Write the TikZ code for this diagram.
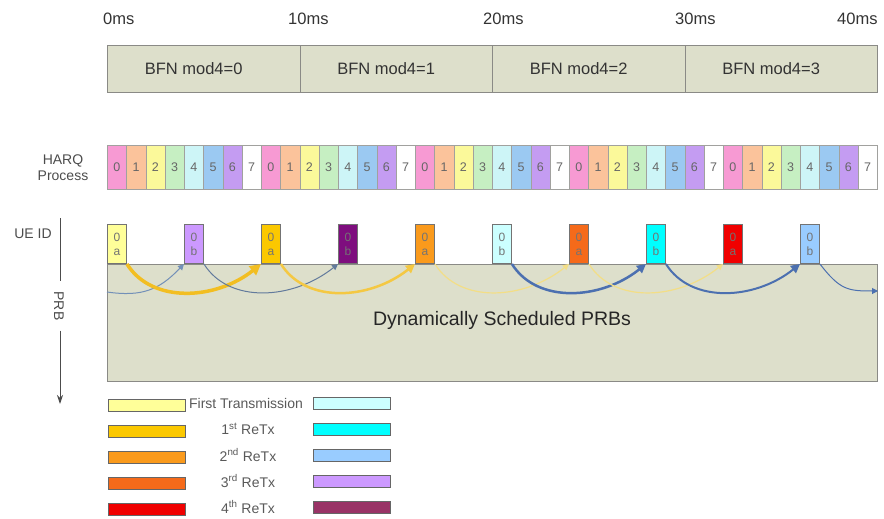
\documentclass[tikz,border=0pt]{standalone}
\usepackage{fontspec}
\setmainfont{Liberation Sans}
\usetikzlibrary{arrows.meta, positioning}

% colours
\definecolor{bfnfill}{HTML}{DDDFCB}
\definecolor{frameline}{HTML}{8A8A86}
\definecolor{harq0}{HTML}{F79AD3}
\definecolor{harq1}{HTML}{FBC39B}
\definecolor{harq2}{HTML}{FBF99A}
\definecolor{harq3}{HTML}{C6EFC2}
\definecolor{harq4}{HTML}{CDF5F7}
\definecolor{harq5}{HTML}{9BC9F2}
\definecolor{harq6}{HTML}{C49CF2}
\definecolor{harq7}{HTML}{FFFFFF}
\definecolor{firsta}{HTML}{FFFF99}
\definecolor{retxaone}{HTML}{FBC800}
\definecolor{retxatwo}{HTML}{FA9A1C}
\definecolor{retxathree}{HTML}{F56A1A}
\definecolor{retxafour}{HTML}{F00000}
\definecolor{firstb}{HTML}{CCFFFF}
\definecolor{retxbone}{HTML}{00FFFF}
\definecolor{retxbtwo}{HTML}{99CCFF}
\definecolor{retxbthree}{HTML}{CC99FF}
\definecolor{retxbfour}{HTML}{993366}
\definecolor{uepurple}{HTML}{7E0E7E}
\definecolor{goldline}{HTML}{F2BE22}
\definecolor{paleline}{HTML}{F3DE86}
\definecolor{blueline}{HTML}{4C70B0}
\definecolor{greyblue}{HTML}{7390B8}

\tikzset{
  timelabel/.style={anchor=west, inner sep=0pt, text=black!80, font=\fontsize{16.5}{18}\selectfont},
  panel/.style={draw=frameline, fill=bfnfill, line width=0.8pt, anchor=north west, inner sep=0pt},
  bfntext/.style={inner sep=0pt, text=black!80, font=\fontsize{16.5}{18}\selectfont},
  harqcell/.style={draw=frameline!80, line width=0.6pt, anchor=north west, inner sep=0pt,
    minimum width=19.25pt, minimum height=44pt, text=black!60, font=\fontsize{12.5}{14}\selectfont},
  uebox/.style={draw=black!55, line width=0.7pt, anchor=south west, inner sep=0pt, align=center,
    minimum width=19.25pt, minimum height=39pt, text=black!55, font=\fontsize{12}{14}\selectfont},
  sidelabel/.style={align=center, text=black!70, font=\fontsize{14}{16}\selectfont},
  legbox/.style={draw=black!60, line width=0.7pt, anchor=west, minimum width=77pt, minimum height=12pt, inner sep=0pt},
  legtext/.style={text=black!65, inner sep=0pt, font=\fontsize{14}{16}\selectfont},
  retxgold/.style={draw=goldline, line width=3.5pt, -{Triangle[length=11pt, width=11pt]}},
  retxgoldmid/.style={draw=goldline!85, line width=2.5pt, -{Triangle[length=9pt, width=9pt]}},
  retxpale/.style={draw=paleline, line width=1.2pt, -{Triangle[length=6pt, width=6pt]}},
  retxblue/.style={draw=blueline, line width=2.5pt, -{Triangle[length=9pt, width=9pt]}},
  retxthin/.style={draw=greyblue, line width=1pt, -{Triangle[length=6pt, width=6pt]}},
}

\begin{document}
\begin{tikzpicture}[x=1pt, y=-1pt]
    \useasboundingbox (0,0) rectangle (884,519);

    % time axis
    \foreach \ms/\x in {0/103, 10/288, 20/483, 30/675, 40/837}
        \node[timelabel] (t\ms) at (\x,19) {\ms ms};

    % BFN frames
    \foreach \k in {0,...,3} {
        \node[panel, minimum width=192.5pt, minimum height=47pt] (bfn\k) at ({107+192.5*\k},45) {};
        \node[bfntext] (bfntext\k) at ([xshift=-10pt]bfn\k.center) {BFN mod4=\k};
    }

    % HARQ processes
    \node[sidelabel] (harqlabel) at (63,168) {HARQ\\Process};
    \foreach \i in {0,...,39} {
        \pgfmathtruncatemacro\h{mod(\i,8)}
        \node[harqcell, fill=harq\h] (h\i) at ({107+19.25*\i},145) {\h};
    }

    % PRB area
    \node[panel, minimum width=770pt, minimum height=117pt] (prb) at (107,264) {};
    \node[inner sep=0pt, text=black!85, font=\fontsize{19.5}{22}\selectfont] (prbtext) at (502,320) {Dynamically Scheduled PRBs};

    % UE transmissions
    \foreach \n/\c/\l in {1/firsta/a, 2/retxbthree/b, 3/retxaone/a, 4/uepurple/b, 5/retxatwo/a,
                          6/firstb/b, 7/retxathree/a, 8/retxbone/b, 9/retxafour/a, 10/retxbtwo/b}
        \node[uebox, fill=\c] (ue\n) at ({107+77*(\n-1)},264) {0\\\l};

    % axis on the left
    \node[sidelabel] (uelabel) at (33,234) {UE ID};
    \node[sidelabel, rotate=-90, inner sep=10pt] (prbaxis) at (59,306) {PRB};
    \coordinate (axtop) at (60,218);
    \coordinate (axbot) at (60,404);
    \draw[black!70, line width=1pt] (axtop) -- (axtop |- prbaxis.west);
    \draw[black!70, line width=1pt, -{Stealth[length=9pt, width=6pt]}] (axtop |- prbaxis.east) -- (axbot);

    % retransmission arrows
    \coordinate (prbin) at (107,292);
    \coordinate (prbout) at (878,291);
    \draw[retxthin] (prbin) .. controls +(35,5) and +(-25,26) .. (ue2.south west);
    \draw[retxgold] (ue1.south east) .. controls +(25,40) and +(-45,36) .. (ue3.south west);
    \draw[retxthin, draw=greyblue!85!black] (ue2.south east) .. controls +(25,40) and +(-45,36) .. (ue4.south west);
    \draw[retxgoldmid] (ue3.south east) .. controls +(25,40) and +(-45,36) .. (ue5.south west);
    \draw[retxpale] (ue5.south east) .. controls +(25,40) and +(-45,36) .. (ue7.south west);
    \draw[retxblue] (ue6.south east) .. controls +(25,40) and +(-45,36) .. (ue8.south west);
    \draw[retxpale] (ue7.south east) .. controls +(25,40) and +(-45,36) .. (ue9.south west);
    \draw[retxblue, line width=2pt] (ue8.south east) .. controls +(25,40) and +(-45,36) .. (ue10.south west);
    \draw[retxthin, draw=blueline] (ue10.south east) .. controls +(20,26) and +(-30,0) .. (prbout);

    % legend
    \foreach \r/\ca/\cb in {0/firsta/firstb, 1/retxaone/retxbone, 2/retxatwo/retxbtwo,
                            3/retxathree/retxbthree, 4/retxafour/retxbfour} {
        \node[legbox, fill=\ca] (lega\r) at (108,{405+26*\r}) {};
        \node[legbox, fill=\cb] (legb\r) at (313,{403+26*\r}) {};
    }
    \node[legtext] (legt0) at (246,403) {First Transmission};
    \foreach \r/\suf in {1/st, 2/nd, 3/rd, 4/th}
        \node[legtext] (legt\r) at (248,{403+26*\r}) {\r\textsuperscript{\suf} ReTx};

\end{tikzpicture}
\end{document}
